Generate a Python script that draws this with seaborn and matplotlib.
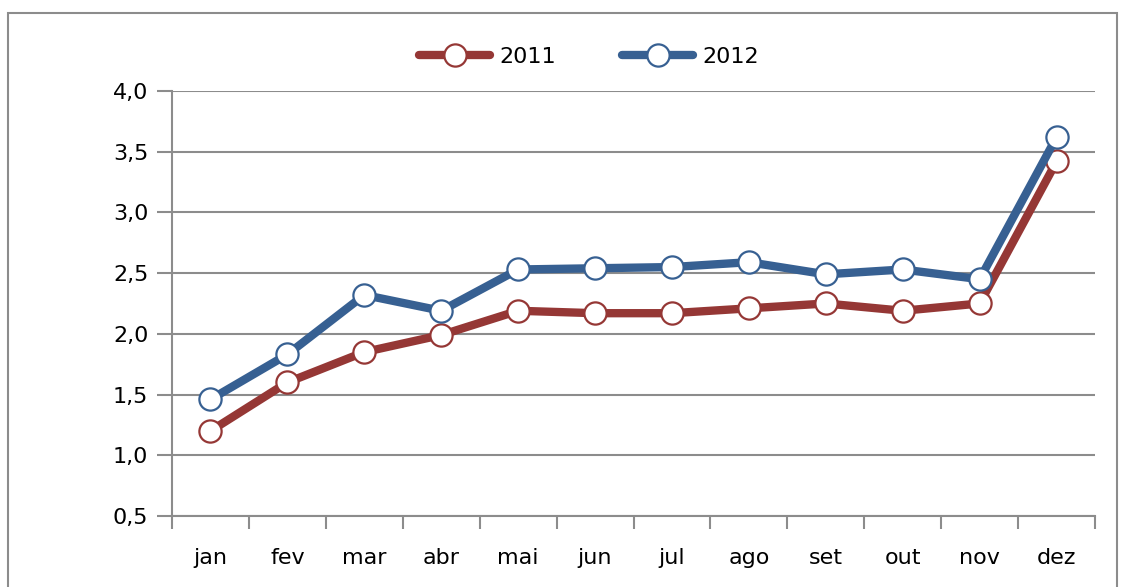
import numpy as np
import pandas as pd
import matplotlib
matplotlib.use('Agg')
import matplotlib.pyplot as plt
import seaborn as sns
from matplotlib.ticker import FuncFormatter, MultipleLocator
from matplotlib.patches import Rectangle

# values
meses = ['jan', 'fev', 'mar', 'abr', 'mai', 'jun', 'jul', 'ago', 'set', 'out', 'nov', 'dez']
serie_2011 = [1.20, 1.60, 1.85, 1.99, 2.19, 2.17, 2.17, 2.21, 2.25, 2.19, 2.25, 3.42]
serie_2012 = [1.46, 1.83, 2.32, 2.19, 2.53, 2.54, 2.55, 2.59, 2.49, 2.53, 2.45, 3.62]

df = pd.DataFrame({'mes': meses, '2011': serie_2011, '2012': serie_2012})
df['pos'] = np.arange(len(meses))

sns.set_style('white')
plt.rcParams['font.family'] = ['DejaVu Sans']
plt.rcParams['text.color'] = 'black'
plt.rcParams['xtick.color'] = 'black'
plt.rcParams['ytick.color'] = 'black'

fig = plt.figure(figsize=(11.22, 5.87), dpi=100)
ax = fig.add_axes([0.1533, 0.121, 0.8227, 0.724])

# outer border of the chart
fig.patches.append(Rectangle((8 / 1122, -0.05), (1117 - 8) / 1122, 1.05 - 13 / 587,
                             transform=fig.transFigure, fill=False,
                             edgecolor='#8c8c8c', linewidth=1.5))

cores = {'2011': '#953735', '2012': '#376092'}
for ano in ['2011', '2012']:
    sns.lineplot(data=df, x='pos', y=ano, ax=ax, color=cores[ano], label=ano,
                 linewidth=6, marker='o', markersize=16, markerfacecolor='white',
                 markeredgecolor=cores[ano], markeredgewidth=1.6, zorder=3)

ax.set_xlim(-0.5, 11.5)
ax.set_ylim(0.5, 4.0)
ax.yaxis.set_major_locator(MultipleLocator(0.5))
ax.yaxis.set_major_formatter(FuncFormatter(lambda v, p: f'{v:.1f}'.replace('.', ',')))
ax.set_xticks(df['pos'])
ax.set_xticklabels(meses)
ax.set_xticks(np.arange(-0.5, 12, 1), minor=True)
ax.tick_params(axis='x', which='both', bottom=True)
ax.tick_params(axis='y', which='major', left=True)
ax.tick_params(axis='x', which='major', length=0, pad=23, labelsize=16, labelcolor='black')
ax.tick_params(axis='x', which='minor', length=9, width=1.5, color='#8c8c8c', direction='out')
ax.tick_params(axis='y', length=11, width=1.5, color='#8c8c8c', direction='out',
               labelsize=16, pad=6, labelcolor='black')
ax.set_xlabel('')
ax.set_ylabel('')

ax.grid(axis='y', color='#8c8c8c', linewidth=1.5)
ax.set_axisbelow(True)
for s in ['top', 'right']:
    ax.spines[s].set_visible(False)
for s in ['left', 'bottom']:
    ax.spines[s].set_color('#8c8c8c')
    ax.spines[s].set_linewidth(1.5)

ax.legend(loc='center', bbox_to_anchor=(0.525, 0.903), bbox_transform=fig.transFigure,
          ncol=2, frameon=False, fontsize=16, handlelength=3.2, columnspacing=3.0,
          handletextpad=0.4)

fig.savefig('out.png', dpi=100)
